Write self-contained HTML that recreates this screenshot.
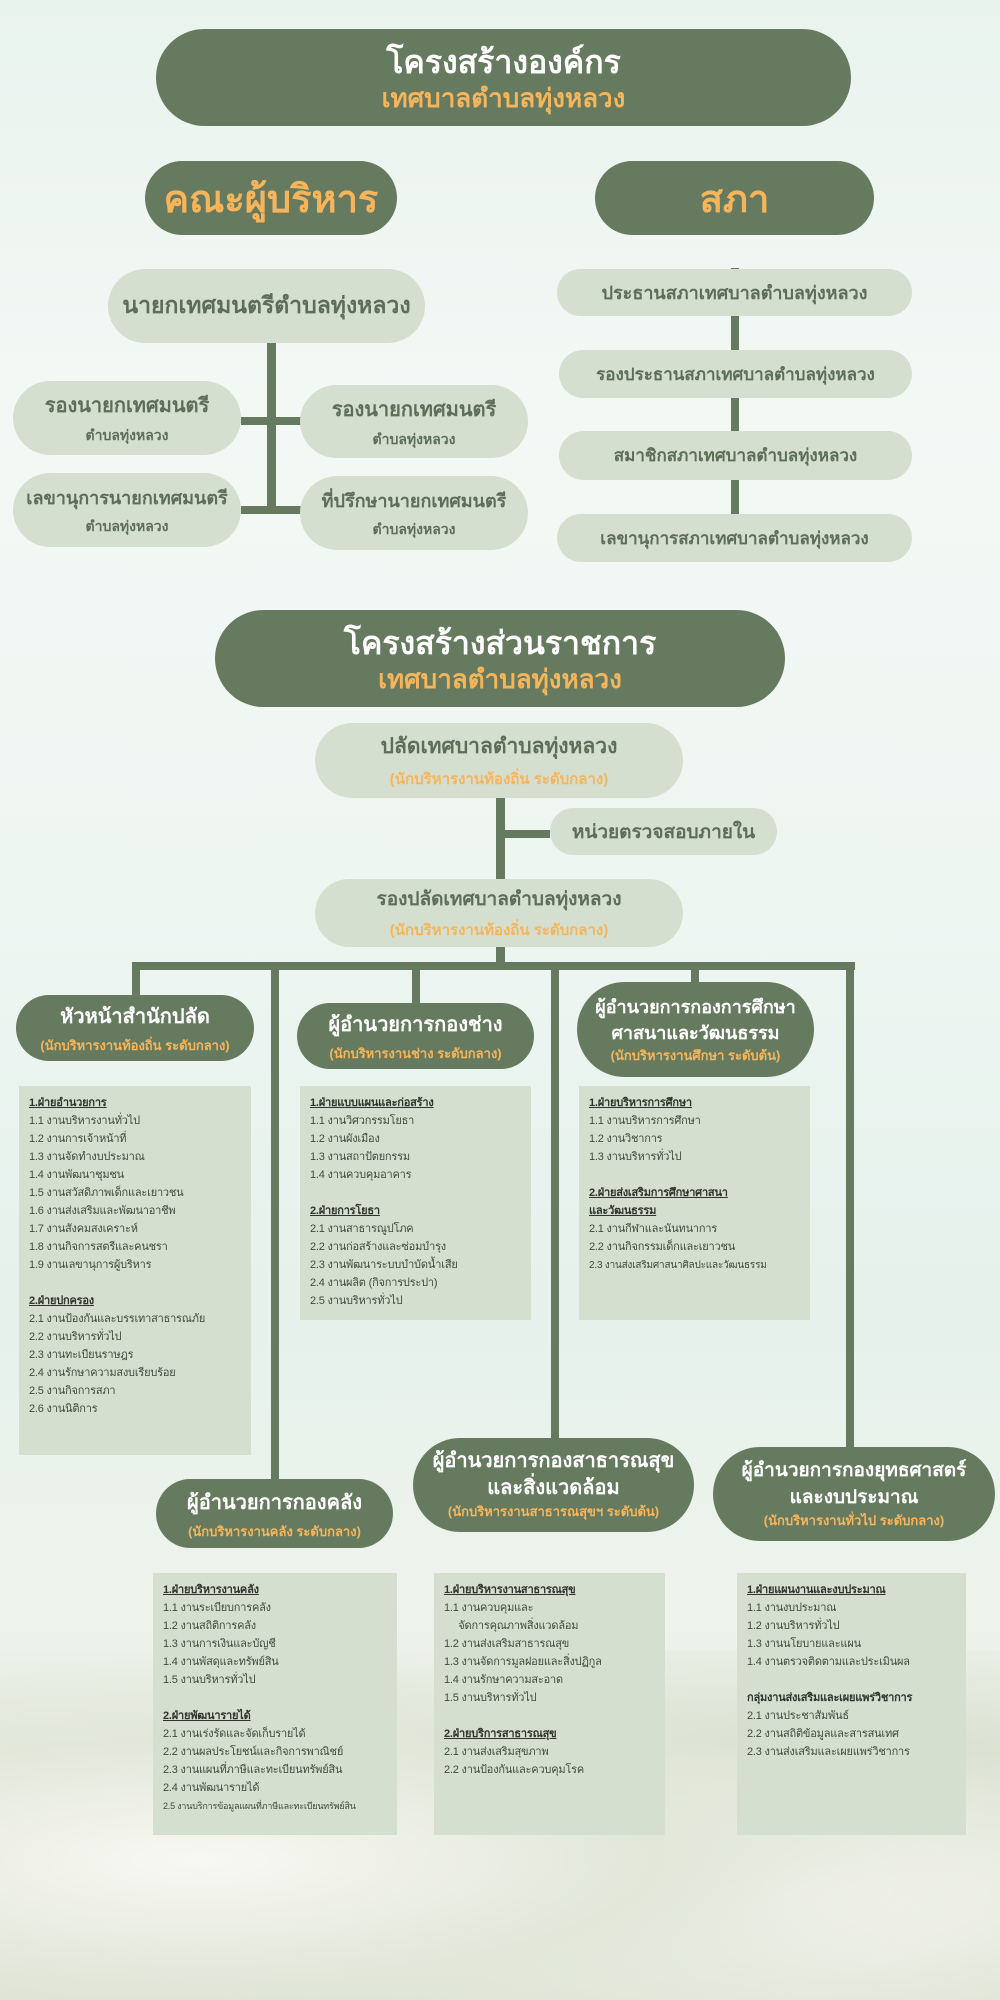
<!DOCTYPE html>
<html><head><meta charset="utf-8"><style>
*{margin:0;padding:0;box-sizing:border-box}
body{width:1000px;height:2000px;position:relative;overflow:hidden;font-family:"Liberation Sans","DejaVu Sans",sans-serif;
background:linear-gradient(180deg,#e9f3ee 0%,#f3f8f5 20%,#eef6f2 45%,#e6f1ec 65%,#eef3ec 80%,#e4e8dc 92%,#d9ddcf 100%);}
.bg1{position:absolute;left:0;top:1650px;width:1000px;height:350px;background:radial-gradient(ellipse at 20% 60%,#f8f8f2 0,#e2e7da 40%,transparent 70%),radial-gradient(ellipse at 80% 70%,#f6f6f0 0,#dbe2d2 45%,transparent 75%),radial-gradient(ellipse at 50% 90%,#c9d3bd 0,transparent 60%);}
.d{position:absolute;background:#657a5e;border-radius:999px;color:#fff;text-align:center;display:flex;flex-direction:column;justify-content:center;align-items:center;font-weight:bold;white-space:nowrap}
.l{position:absolute;background:#d5dfd0;border-radius:999px;color:#5d6e58;text-align:center;display:flex;flex-direction:column;justify-content:center;align-items:center;font-weight:bold;white-space:nowrap}
.o{color:#f6b55a}
.ln{position:absolute;background:#657a5e}
.c{position:absolute;background:#d5dfd0;color:#3f4a3c;font-size:11px;line-height:18px;padding:8px 10px;white-space:nowrap;overflow:hidden;letter-spacing:-0.2px}
.c b{text-decoration:underline;color:#2e352c}
</style></head><body>
<div class="bg1"></div>

<div class="d" style="left:156px;top:29px;width:695px;height:97px"><div style="font-size:32px;line-height:40px">โครงสร้างองค์กร</div><div class="o" style="font-size:26px;line-height:32px">เทศบาลตำบลทุ่งหลวง</div></div>
<div class="d o" style="left:145px;top:161px;width:252px;height:74px;font-size:38px">คณะผู้บริหาร</div>
<div class="d o" style="left:595px;top:161px;width:279px;height:74px;font-size:38px">สภา</div>

<div class="ln" style="left:267px;top:340px;width:9px;height:174px"></div>
<div class="ln" style="left:241px;top:417px;width:60px;height:8px"></div>
<div class="ln" style="left:241px;top:506px;width:60px;height:8px"></div>
<div class="l" style="left:108px;top:269px;width:317px;height:74px;font-size:23px">นายกเทศมนตรีตำบลทุ่งหลวง</div>
<div class="l" style="left:13px;top:381px;width:228px;height:74px;font-size:20px">รองนายกเทศมนตรี<div style="font-size:14px;margin-top:4px">ตำบลทุ่งหลวง</div></div>
<div class="l" style="left:300px;top:385px;width:228px;height:73px;font-size:20px">รองนายกเทศมนตรี<div style="font-size:14px;margin-top:4px">ตำบลทุ่งหลวง</div></div>
<div class="l" style="left:13px;top:473px;width:228px;height:74px;font-size:18px">เลขานุการนายกเทศมนตรี<div style="font-size:14px;margin-top:4px">ตำบลทุ่งหลวง</div></div>
<div class="l" style="left:300px;top:476px;width:228px;height:74px;font-size:18px">ที่ปรึกษานายกเทศมนตรี<div style="font-size:14px;margin-top:4px">ตำบลทุ่งหลวง</div></div>

<div class="ln" style="left:731px;top:268px;width:8px;height:250px"></div>
<div class="l" style="left:557px;top:269px;width:355px;height:47px;font-size:18px">ประธานสภาเทศบาลตำบลทุ่งหลวง</div>
<div class="l" style="left:559px;top:350px;width:353px;height:48px;font-size:17px">รองประธานสภาเทศบาลตำบลทุ่งหลวง</div>
<div class="l" style="left:559px;top:431px;width:353px;height:49px;font-size:17px">สมาชิกสภาเทศบาลตำบลทุ่งหลวง</div>
<div class="l" style="left:557px;top:514px;width:355px;height:48px;font-size:17px">เลขานุการสภาเทศบาลตำบลทุ่งหลวง</div>

<div class="d" style="left:215px;top:610px;width:570px;height:97px"><div style="font-size:32px;line-height:40px">โครงสร้างส่วนราชการ</div><div class="o" style="font-size:26px;line-height:32px">เทศบาลตำบลทุ่งหลวง</div></div>
<div class="ln" style="left:496px;top:795px;width:9px;height:172px"></div>
<div class="ln" style="left:500px;top:830px;width:50px;height:8px"></div>
<div class="l" style="left:315px;top:723px;width:368px;height:75px;font-size:21px">ปลัดเทศบาลตำบลทุ่งหลวง<div class="o" style="font-size:15px;margin-top:4px">(นักบริหารงานท้องถิ่น ระดับกลาง)</div></div>
<div class="l" style="left:550px;top:808px;width:227px;height:47px;font-size:19px">หน่วยตรวจสอบภายใน</div>
<div class="l" style="left:315px;top:879px;width:368px;height:68px;font-size:19px">รองปลัดเทศบาลตำบลทุ่งหลวง<div class="o" style="font-size:15px;margin-top:4px">(นักบริหารงานท้องถิ่น ระดับกลาง)</div></div>

<div class="ln" style="left:132px;top:962px;width:723px;height:8px"></div>
<div class="ln" style="left:132px;top:962px;width:8px;height:36px"></div>
<div class="ln" style="left:271px;top:962px;width:8px;height:520px"></div>
<div class="ln" style="left:412px;top:962px;width:8px;height:45px"></div>
<div class="ln" style="left:551px;top:962px;width:8px;height:480px"></div>
<div class="ln" style="left:691px;top:962px;width:8px;height:24px"></div>
<div class="ln" style="left:846px;top:962px;width:8px;height:490px"></div>

<div class="d" style="left:16px;top:995px;width:238px;height:66px;font-size:20px">หัวหน้าสำนักปลัด<div class="o" style="font-size:13px;margin-top:3px">(นักบริหารงานท้องถิ่น ระดับกลาง)</div></div>
<div class="d" style="left:297px;top:1003px;width:237px;height:66px;font-size:20px">ผู้อำนวยการกองช่าง<div class="o" style="font-size:13px;margin-top:3px">(นักบริหารงานช่าง ระดับกลาง)</div></div>
<div class="d" style="left:577px;top:982px;width:237px;height:95px;font-size:18px;line-height:26px">ผู้อำนวยการกองการศึกษา<br>ศาสนาและวัฒนธรรม<div class="o" style="font-size:13px;line-height:20px">(นักบริหารงานศึกษา ระดับต้น)</div></div>

<div class="c" style="left:19px;top:1086px;width:232px;height:369px"><b>1.ฝ่ายอำนวยการ</b><br>1.1 งานบริหารงานทั่วไป<br>1.2 งานการเจ้าหน้าที่<br>1.3 งานจัดทำงบประมาณ<br>1.4 งานพัฒนาชุมชน<br>1.5 งานสวัสดิภาพเด็กและเยาวชน<br>1.6 งานส่งเสริมและพัฒนาอาชีพ<br>1.7 งานสังคมสงเคราะห์<br>1.8 งานกิจการสตรีและคนชรา<br>1.9 งานเลขานุการผู้บริหาร<br><br><b>2.ฝ่ายปกครอง</b><br>2.1 งานป้องกันและบรรเทาสาธารณภัย<br>2.2 งานบริหารทั่วไป<br>2.3 งานทะเบียนราษฎร<br>2.4 งานรักษาความสงบเรียบร้อย<br>2.5 งานกิจการสภา<br>2.6 งานนิติการ</div>
<div class="c" style="left:300px;top:1086px;width:231px;height:234px"><b>1.ฝ่ายแบบแผนและก่อสร้าง</b><br>1.1 งานวิศวกรรมโยธา<br>1.2 งานผังเมือง<br>1.3 งานสถาปัตยกรรม<br>1.4 งานควบคุมอาคาร<br><br><b>2.ฝ่ายการโยธา</b><br>2.1 งานสาธารณูปโภค<br>2.2 งานก่อสร้างและซ่อมบำรุง<br>2.3 งานพัฒนาระบบบำบัดน้ำเสีย<br>2.4 งานผลิต (กิจการประปา)<br>2.5 งานบริหารทั่วไป</div>
<div class="c" style="left:579px;top:1086px;width:231px;height:234px"><b>1.ฝ่ายบริหารการศึกษา</b><br>1.1 งานบริหารการศึกษา<br>1.2 งานวิชาการ<br>1.3 งานบริหารทั่วไป<br><br><b>2.ฝ่ายส่งเสริมการศึกษาศาสนา<br>และวัฒนธรรม</b><br>2.1 งานกีฬาและนันทนาการ<br>2.2 งานกิจกรรมเด็กและเยาวชน<br><span style="font-size:10px">2.3 งานส่งเสริมศาสนาศิลปะและวัฒนธรรม</span></div>

<div class="d" style="left:156px;top:1479px;width:237px;height:69px;font-size:20px">ผู้อำนวยการกองคลัง<div class="o" style="font-size:13px;margin-top:3px">(นักบริหารงานคลัง ระดับกลาง)</div></div>
<div class="d" style="left:413px;top:1438px;width:281px;height:94px;font-size:20px;line-height:27px">ผู้อำนวยการกองสาธารณสุข<br>และสิ่งแวดล้อม<div class="o" style="font-size:13px;line-height:20px">(นักบริหารงานสาธารณสุขฯ ระดับต้น)</div></div>
<div class="d" style="left:713px;top:1447px;width:282px;height:94px;font-size:19px;line-height:27px">ผู้อำนวยการกองยุทธศาสตร์<br>และงบประมาณ<div class="o" style="font-size:13px;line-height:20px">(นักบริหารงานทั่วไป ระดับกลาง)</div></div>

<div class="c" style="left:153px;top:1573px;width:244px;height:262px"><b>1.ฝ่ายบริหารงานคลัง</b><br>1.1 งานระเบียบการคลัง<br>1.2 งานสถิติการคลัง<br>1.3 งานการเงินและบัญชี<br>1.4 งานพัสดุและทรัพย์สิน<br>1.5 งานบริหารทั่วไป<br><br><b>2.ฝ่ายพัฒนารายได้</b><br>2.1 งานเร่งรัดและจัดเก็บรายได้<br>2.2 งานผลประโยชน์และกิจการพาณิชย์<br>2.3 งานแผนที่ภาษีและทะเบียนทรัพย์สิน<br>2.4 งานพัฒนารายได้<br><span style="font-size:9px">2.5 งานบริการข้อมูลแผนที่ภาษีและทะเบียนทรัพย์สิน</span></div>
<div class="c" style="left:434px;top:1573px;width:231px;height:262px"><b>1.ฝ่ายบริหารงานสาธารณสุข</b><br>1.1 งานควบคุมและ<br>&nbsp;&nbsp;&nbsp;&nbsp;&nbsp;จัดการคุณภาพสิ่งแวดล้อม<br>1.2 งานส่งเสริมสาธารณสุข<br>1.3 งานจัดการมูลฝอยและสิ่งปฏิกูล<br>1.4 งานรักษาความสะอาด<br>1.5 งานบริหารทั่วไป<br><br><b>2.ฝ่ายบริการสาธารณสุข</b><br>2.1 งานส่งเสริมสุขภาพ<br>2.2 งานป้องกันและควบคุมโรค</div>
<div class="c" style="left:737px;top:1573px;width:229px;height:262px"><b>1.ฝ่ายแผนงานและงบประมาณ</b><br>1.1 งานงบประมาณ<br>1.2 งานบริหารทั่วไป<br>1.3 งานนโยบายและแผน<br>1.4 งานตรวจติดตามและประเมินผล<br><br><b style="text-decoration:none">กลุ่มงานส่งเสริมและเผยแพร่วิชาการ</b><br>2.1 งานประชาสัมพันธ์<br>2.2 งานสถิติข้อมูลและสารสนเทศ<br>2.3 งานส่งเสริมและเผยแพร่วิชาการ</div>
</body></html>
